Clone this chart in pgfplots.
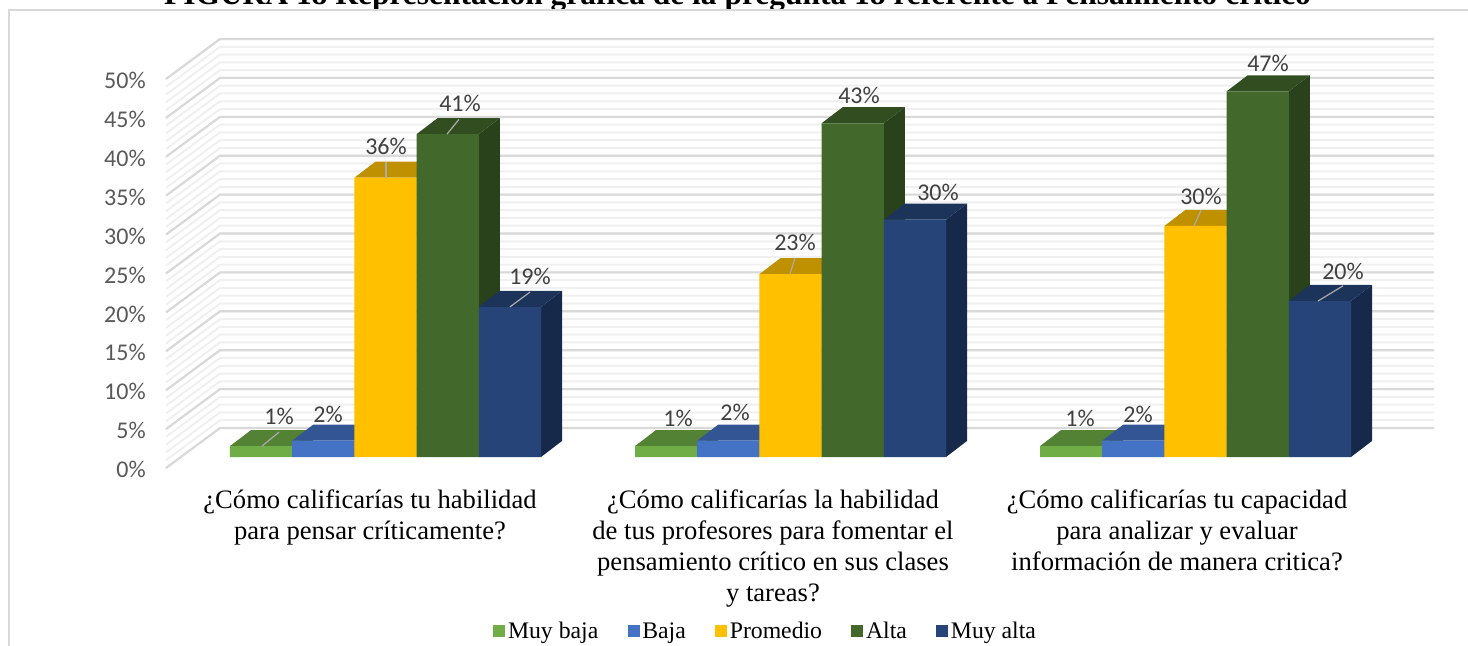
\documentclass[border=0pt]{standalone}
\usepackage{pgfplots}
\pgfplotsset{compat=1.18}
\usepackage{fontspec}
\setmainfont{Liberation Serif}
\newfontfamily\calf{Carlito}
\definecolor{c1}{HTML}{70AD47}\definecolor{t1}{HTML}{548235}\definecolor{s1}{HTML}{3F6228}
\definecolor{c2}{HTML}{4472C4}\definecolor{t2}{HTML}{335593}\definecolor{s2}{HTML}{223962}
\definecolor{c3}{HTML}{FFC000}\definecolor{t3}{HTML}{BF9000}\definecolor{s3}{HTML}{7F6000}
\definecolor{c4}{HTML}{43682B}\definecolor{t4}{HTML}{324E20}\definecolor{s4}{HTML}{2A421B}
\definecolor{c5}{HTML}{264478}\definecolor{t5}{HTML}{1C335A}\definecolor{s5}{HTML}{16294A}
\newcommand\depthfaces[4]{%
  \pgfmathsetmacro\xl{#1-31.1}\pgfmathsetmacro\xr{#1+31.1}%
  \pgfmathsetmacro\xld{#1-10.1}\pgfmathsetmacro\xrd{#1+52.1}%
  \pgfmathsetmacro\yt{#2+2.06}\pgfmathsetmacro\yb{2.06}%
  \edef\tmp{\noexpand\addplot[forget plot,fill=#4,draw=none] coordinates {(\xr,0)(\xrd,\yb)(\xrd,\yt)(\xr,#2)(\xr,0)};
   \noexpand\addplot[forget plot,fill=#3,draw=none] coordinates {(\xl,#2)(\xr,#2)(\xrd,\yt)(\xld,\yt)(\xl,#2)};}\tmp}
\newcommand\lab[3]{\node[font=\calf\fontsize{18pt}{20pt}\selectfont,text=black!75,inner sep=0pt] at (axis cs:#1,{(457-#2)/7.78}) {#3};}
\newcommand\lead[4]{\addplot[forget plot,color=black!33,line width=0.9pt] coordinates {(#1,#2)(#3,#4)};}
\begin{document}
\begin{tikzpicture}[x=.75pt,y=.75pt]
\useasboundingbox (-166,-178) rectangle (1302,468);
\node[font=\bfseries\fontsize{23.6pt}{25pt}\selectfont,anchor=base,inner sep=0pt] at (571.5,463) {FIGURA 18 Representación gráfica de la pregunta 18 referente a Pensamiento crítico};
\fill[white] (-157,458) rectangle (1302,-178);
\draw[color=black!15,line width=1.6pt] (-157,-178) -- (-157,458) -- (1302,458);
\begin{axis}[
  scale only axis, width=951pt, height=321.75pt,
  xmin=166, xmax=1434, ymin=-1.414, ymax=53.73,
  clip=false, no marks,
  axis line style={draw=none}, tick style={draw=none},
  ytick={-1.414,3.586,8.586,13.586,18.586,23.586,28.586,33.586,38.586,43.586,48.586},
  yticklabels={0\%,5\%,10\%,15\%,20\%,25\%,30\%,35\%,40\%,45\%,50\%},
  yticklabel style={font=\calf\fontsize{18pt}{20pt}\selectfont,text=black!65,anchor=east,inner sep=0pt,xshift=-15pt,yshift=-1.2pt},
  xtick={370,773,1177},
  xticklabels={{¿Cómo calificarías tu habilidad\\para pensar críticamente?},
    {¿Cómo calificarías la habilidad\\de tus profesores para fomentar el\\pensamiento crítico en sus clases\\y tareas?},
    {¿Cómo calificarías tu capacidad\\para analizar y evaluar\\información de manera critica?}},
  xticklabel style={font=\fontsize{19.95pt}{23.25pt}\selectfont,align=center,anchor=north,inner sep=0pt,yshift=-16.5pt},
  legend image code/.code={\fill[#1] (0pt,-4.5pt) rectangle (9pt,4.5pt);},
  legend style={draw=none,fill=none,at={(axis cs:766,-22.4)},anchor=center,
    font=\fontsize{17.8pt}{20pt}\selectfont,legend columns=5,inner sep=0pt,
    /tikz/every odd column/.append style={column sep=0pt},
    /tikz/every even column/.append style={column sep=20pt}},
]
% back wall and side wall
\pgfplotsinvokeforeach{0,1,...,50}{
  \pgfmathsetmacro\yb{(457-428+7.78*#1)/7.78}\pgfmathsetmacro\yf{(457-468+7.78*#1)/7.78}
  \edef\tmp{\noexpand\addplot[forget plot,color=black!6,line width=1.5pt] coordinates {(166,\yf)(220,\yb)(1434,\yb)};}\tmp
}
\pgfplotsinvokeforeach{0,5,...,50}{
  \pgfmathsetmacro\yb{(457-428+7.78*#1)/7.78}\pgfmathsetmacro\yf{(457-468+7.78*#1)/7.78}
  \edef\tmp{\noexpand\addplot[forget plot,color=black!15,line width=1.6pt] coordinates {(166,\yf)(220,\yb)(1434,\yb)};}\tmp
}
% Muy baja
\depthfaces{261.1}{1.4}{t1}{s1}\depthfaces{666.1}{1.4}{t1}{s1}\depthfaces{1071.1}{1.4}{t1}{s1}
\addplot[ybar,bar width=62.2,bar shift=0pt,fill=c1,draw=none] coordinates {(261.1,1.4)(666.1,1.4)(1071.1,1.4)};
% Baja
\depthfaces{323.3}{2.1}{t2}{s2}\depthfaces{728.3}{2.1}{t2}{s2}\depthfaces{1133.3}{2.1}{t2}{s2}
\addplot[ybar,bar width=62.2,bar shift=0pt,fill=c2,draw=none] coordinates {(323.3,2.1)(728.3,2.1)(1133.3,2.1)};
% Promedio
\depthfaces{385.5}{35.9}{t3}{s3}\depthfaces{790.5}{23.5}{t3}{s3}\depthfaces{1195.5}{29.7}{t3}{s3}
\addplot[ybar,bar width=62.2,bar shift=0pt,fill=c3,draw=none] coordinates {(385.5,35.9)(790.5,23.5)(1195.5,29.7)};
% Alta
\depthfaces{447.7}{41.5}{t4}{s4}\depthfaces{852.7}{42.9}{t4}{s4}\depthfaces{1257.7}{47.0}{t4}{s4}
\addplot[ybar,bar width=62.2,bar shift=0pt,fill=c4,draw=none] coordinates {(447.7,41.5)(852.7,42.9)(1257.7,47.0)};
% Muy alta
\depthfaces{509.9}{19.3}{t5}{s5}\depthfaces{914.9}{30.5}{t5}{s5}\depthfaces{1319.9}{20.05}{t5}{s5}
\addplot[ybar,bar width=62.2,bar shift=0pt,fill=c5,draw=none] coordinates {(509.9,19.3)(914.9,30.5)(1319.9,20.05)};
% leader lines
\lead{262}{1.4}{279}{3.2}
\lead{386}{35.9}{386}{37.9}
\lead{447}{41.5}{459}{43.4}
\lead{510}{19.3}{530}{21.2}
\lead{790}{23.5}{795}{25.6}
\lead{1194}{29.7}{1201}{31.7}
\lead{1318}{20.05}{1343}{22.0}
\legend{Muy baja,Baja,Promedio,Alta,Muy alta}
% data labels
\lab{279}{416}{1\%}\lab{328}{414}{2\%}\lab{386}{146}{36\%}\lab{460}{103}{41\%}\lab{530}{276}{19\%}
\lab{678}{418}{1\%}\lab{735}{412}{2\%}\lab{795}{242}{23\%}\lab{859}{95}{43\%}\lab{938}{192}{30\%}
\lab{1080}{418}{1\%}\lab{1138}{414}{2\%}\lab{1201}{196}{30\%}\lab{1268}{63}{47\%}\lab{1343}{271}{20\%}
\end{axis}
\end{tikzpicture}
\end{document}
